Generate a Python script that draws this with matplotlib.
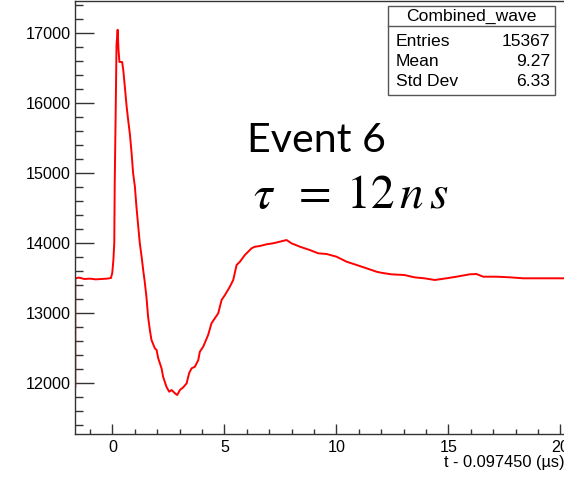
import matplotlib
matplotlib.use('Agg')
import matplotlib.pyplot as plt
from matplotlib.ticker import MultipleLocator
from matplotlib.patches import Rectangle

# waveform (time in us, ADC counts)
t = [-1.66, -1.66, -1.5, -1.25, -1.0, -0.75, -0.5, -0.25, -0.07, -0.01, 0.04, 0.08,
     0.10, 0.14, 0.18, 0.23, 0.27, 0.31, 0.43, 0.48, 0.55, 0.63, 0.70, 0.78, 0.85,
     0.92, 1.00, 1.07, 1.15, 1.22, 1.30, 1.37, 1.44, 1.52, 1.59, 1.67, 1.74, 1.89,
     1.97, 2.04, 2.19, 2.26, 2.41, 2.53, 2.64, 2.79, 2.89, 3.01, 3.16, 3.31, 3.42,
     3.53, 3.68, 3.83, 3.90, 4.05, 4.27, 4.42, 4.57, 4.72, 4.87, 5.02, 5.24, 5.39,
     5.54, 5.69, 5.91, 6.21, 6.36, 6.58, 6.88, 7.17, 7.47, 7.77, 7.99, 8.37, 8.81,
     9.18, 9.56, 10.00, 10.45, 10.90, 11.34, 11.79, 11.99, 12.44, 13.03, 13.48,
     13.92, 14.39, 14.91, 15.36, 15.95, 16.25, 16.55, 17.15, 17.74, 18.33, 18.93,
     19.52, 20.12, 21.0]
adc = [11950, 13500, 13510, 13490, 13495, 13485, 13490, 13495, 13504, 13576, 13761, 14004,
       14860, 15810, 16830, 17050, 16760, 16590, 16590, 16480, 16240, 15960, 15760, 15550, 15300,
       15004, 14810, 14520, 14240, 14000, 13810, 13620, 13450, 13220, 12950, 12760, 12620, 12500,
       12475, 12360, 12214, 12094, 11950, 11880, 11904, 11857, 11833, 11904, 11943, 12000, 12143,
       12214, 12237, 12333, 12451, 12523, 12690, 12857, 12929, 13000, 13190, 13261, 13380, 13476,
       13690, 13737, 13833, 13929, 13951, 13961, 13986, 14000, 14023, 14047, 14000, 13951, 13904,
       13857, 13847, 13809, 13737, 13690, 13643, 13594, 13580, 13557, 13547, 13514,
       13500, 13476, 13500, 13523, 13557, 13561, 13523, 13523, 13514, 13500, 13500,
       13500, 13500, 13500]

stat_names = ['Entries', 'Mean', 'Std Dev']
stat_vals = ['15367', '9.27', '6.33']

W, H = 564, 483
fig = plt.figure(figsize=(W / 100, H / 100), dpi=100)
# axes run off the right edge like in the original screenshot
x0, x1 = -1.66, 21.0
ax = fig.add_axes([75.3 / W, 49 / H, (x1 - x0) * 22.4 / W, 433 / H])
ax.plot(t, adc, color='#ff0000', lw=1.4)
ax.set_xlim(x0, x1)
ax.set_ylim(11276, 17461)

ax.xaxis.set_major_locator(MultipleLocator(5))
ax.xaxis.set_minor_locator(MultipleLocator(1))
ax.yaxis.set_major_locator(MultipleLocator(1000))
ax.yaxis.set_minor_locator(MultipleLocator(200))
ax.tick_params(axis='both', which='both', direction='in', color='#333333', width=1.0,
               labelsize=11.6, labelcolor='black')
ax.tick_params(axis='y', which='major', length=13.5, pad=3.3)
ax.tick_params(axis='y', which='minor', length=5.8)
ax.tick_params(axis='x', which='major', length=7.2, pad=4)
ax.tick_params(axis='x', which='minor', length=3.6)
for lab in ax.get_xticklabels() + ax.get_yticklabels():
    lab.set_fontfamily('Liberation Sans')
for s in ax.spines.values():
    s.set_color('#333333')
    s.set_linewidth(1.0)

fig.text(565 / W, 1 - 462 / H, 't - 0.097450 (\u00b5s)', ha='right', va='center',
         fontsize=11.8, family='Liberation Sans')

# stats box
bx0, bx1, by0, by1 = 388.3, 555, 6, 95
fig.patches.append(Rectangle((bx0 / W, 1 - by1 / H), (bx1 - bx0) / W, (by1 - by0) / H,
                             transform=fig.transFigure, facecolor='white',
                             edgecolor='#555555', lw=1.0, zorder=5))
fig.lines.append(plt.Line2D([bx0 / W, bx1 / W], [1 - 26 / H, 1 - 26 / H],
                            transform=fig.transFigure, color='#555555', lw=1.0, zorder=6))
fig.text((bx0 + bx1) / 2 / W, 1 - 16.5 / H, 'Combined_wave', ha='center', va='center',
         fontsize=12.6, family='Liberation Sans', zorder=7)
for i, (n, v) in enumerate(zip(stat_names, stat_vals)):
    yy = 1 - (41.7 + 20 * i) / H
    fig.text(396 / W, yy, n, ha='left', va='center', fontsize=12.6,
             family='Liberation Sans', zorder=7)
    fig.text(550 / W, yy, v, ha='right', va='center', fontsize=12.6,
             family='Liberation Sans', zorder=7)

fig.text(246.7 / W, 1 - 151.7 / H, 'Event 6', ha='left', va='baseline',
         fontsize=29.6, family='Lato')
plt.rcParams['mathtext.fontset'] = 'stix'
fig.text(253 / W, 1 - 208.3 / H, r'$\tau\;\;=\;12\,n\,s$', ha='left', va='baseline',
         fontsize=34)

fig.savefig('out.png', dpi=100)
